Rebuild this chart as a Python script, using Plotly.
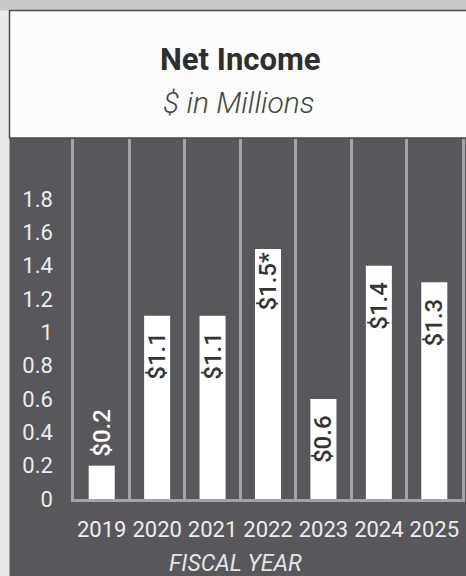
import plotly.graph_objects as go

# Net income by fiscal year, $ millions
years = ["2019", "2020", "2021", "2022", "2023", "2024", "2025"]
net_income = [0.2, 1.1, 1.1, 1.5, 0.6, 1.4, 1.3]
notes = ["", "", "", "*", "", "", ""]
label_pos = ["outside", "inside", "inside", "inside", "inside", "inside", "inside"]

y_ticks = [0, 0.2, 0.4, 0.6, 0.8, 1, 1.2, 1.4, 1.6, 1.8]
y_ticktext = ["0", "0.2", "0.4", "0.6", "0.8", "1", "1.2", "1.4", "1.6", "1.8"]

PANEL = "#58585c"
GRID = "#a4a4a8"
W, H = 466, 576

# value labels; a figure space keeps un-footnoted labels aligned with the starred one
labels = []
for v, n, pos in zip(net_income, notes, label_pos):
    txt = f"${v:.1f}{n}"
    if pos == "inside" and not n:
        txt += "\u2007"
    if pos == "outside":
        txt = "\u00a0" + txt
    labels.append(txt)
label_colors = ["#ffffff" if p == "outside" else "#353535" for p in label_pos]

fig = go.Figure(
    go.Bar(
        x=years,
        y=net_income,
        marker=dict(color="#ffffff", line=dict(width=0)),
        text=labels,
        textposition=label_pos,
        insidetextanchor="end",
        textangle=-90,
        textfont=dict(family="Roboto", size=24, color=label_colors, weight=500),
        cliponaxis=False,
        hoverinfo="skip",
    )
)

fig.update_layout(
    width=W,
    height=H,
    margin=dict(l=0, r=0, t=0, b=0, autoexpand=False),
    paper_bgcolor=PANEL,
    plot_bgcolor=PANEL,
    bargap=0.53,
    showlegend=False,
    uniformtext=dict(minsize=24, mode="show"),
    font=dict(family="Roboto", color="#e8e8e8"),
    xaxis=dict(
        domain=[74 / W, 462 / W],
        type="category",
        tickson="boundaries",
        showgrid=True,
        gridcolor=GRID,
        gridwidth=2.5,
        showline=True,
        linecolor=GRID,
        linewidth=3,
        ticks="",
        tickangle=0,
        automargin=False,
        ticklabelstandoff=9,
        tickfont=dict(family="Roboto", size=22, color="#ececec"),
        fixedrange=True,
    ),
    yaxis=dict(
        domain=[77 / H, 437 / H],
        range=[0, 2.16],
        tickvals=y_ticks,
        ticktext=y_ticktext,
        showgrid=False,
        zeroline=False,
        showline=True,
        mirror=True,
        linecolor=GRID,
        linewidth=2.5,
        ticks="",
        automargin=False,
        ticklabelstandoff=14,
        tickfont=dict(family="Roboto", size=22, color="#ececec"),
        fixedrange=True,
    ),
    shapes=[
        # light strip on the left edge
        dict(type="rect", xref="paper", yref="paper", x0=0, x1=9.5 / W, y0=0, y1=1,
             fillcolor="#e9e9e9", line=dict(width=0), layer="below"),
        # grey strip at the top
        dict(type="rect", xref="paper", yref="paper", x0=0, x1=1, y0=(H - 10.5) / H, y1=1,
             fillcolor="#c8c8c8", line=dict(width=0), layer="below"),
        # title card
        dict(type="rect", xref="paper", yref="paper", x0=9.5 / W, x1=1.02,
             y0=(H - 138) / H, y1=(H - 10.5) / H,
             fillcolor="#fcfcfc", line=dict(color="#4a4a4a", width=1.5), layer="below"),
    ],
    annotations=[
        dict(text="<b>Net Income</b>", xref="paper", yref="paper", x=240 / W, y=(H - 60) / H,
             xanchor="center", yanchor="middle", showarrow=False,
             font=dict(family="Roboto", size=31, color="#2e2e2e")),
        dict(text="<i>$ in Millions</i>", xref="paper", yref="paper", x=239 / W, y=(H - 102) / H,
             xanchor="center", yanchor="middle", showarrow=False,
             font=dict(family="Roboto", size=30, color="#444444", weight=300)),
        dict(text="<i>FISCAL YEAR</i>", xref="paper", yref="paper", x=235 / W, y=(H - 563) / H,
             xanchor="center", yanchor="middle", showarrow=False,
             font=dict(family="Roboto", size=23, color="#e4e4e4")),
    ],
)

fig.write_html("out.html")
